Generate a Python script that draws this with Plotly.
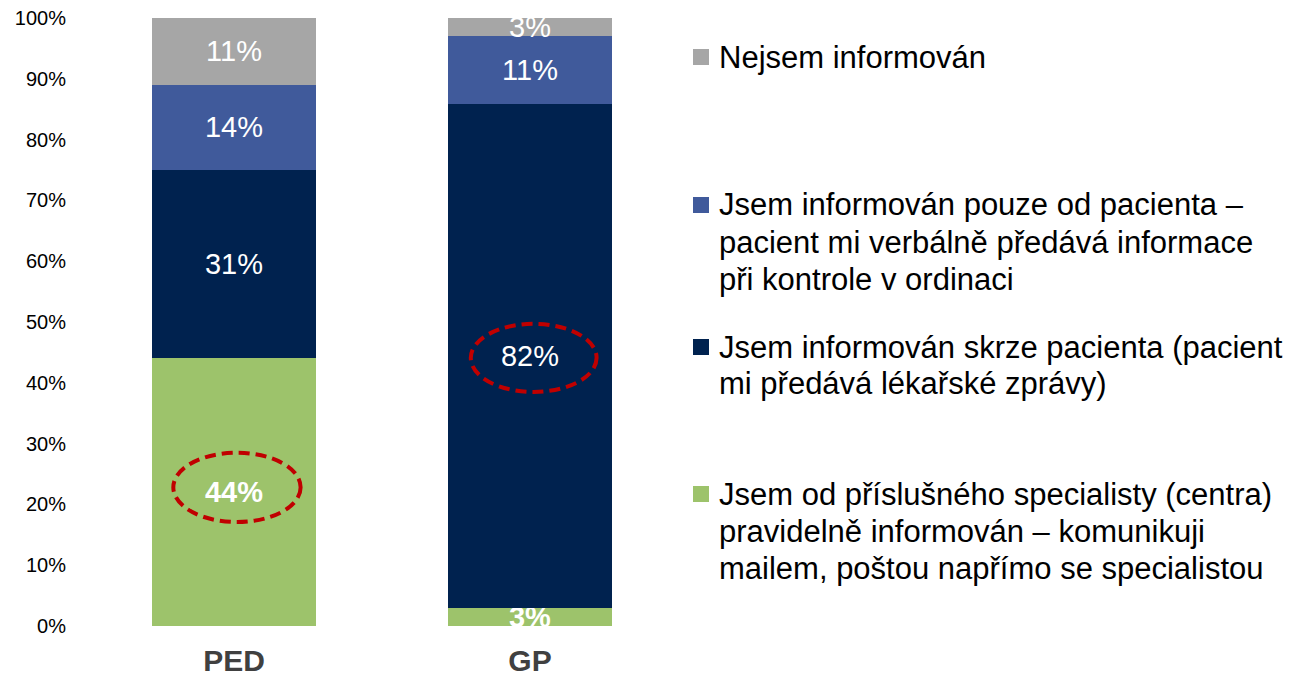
import plotly.graph_objects as go

# ---- data -------------------------------------------------------------
groups = ["PED", "GP"]
series_names = [
    "Jsem od příslušného specialisty (centra) pravidelně informován – komunikuji mailem, poštou napřímo se specialistou",
    "Jsem informován skrze pacienta (pacient mi předává lékařské zprávy)",
    "Jsem informován pouze od pacienta – pacient mi verbálně předává informace při kontrole v ordinaci",
    "Nejsem informován",
]
specialist = [44, 3]
via_patient_reports = [31, 82]
verbal_only = [14, 11]
not_informed = [11, 3]
series_values = [specialist, via_patient_reports, verbal_only, not_informed]
series_colors = ["#9DC36B", "#00224F", "#405A9B", "#A6A6A6"]
# which labels are printed bold
bold_labels = [[True, True], [False, False], [False, False], [False, False]]

legend_lines = [
    ["Nejsem informován"],
    ["Jsem informován pouze od pacienta –",
     "pacient mi verbálně předává informace",
     "při kontrole v ordinaci"],
    ["Jsem informován skrze pacienta (pacient",
     "mi předává lékařské zprávy)"],
    ["Jsem od příslušného specialisty (centra)",
     "pravidelně informován – komunikuji",
     "mailem, poštou napřímo se specialistou"],
]
legend_colors = ["#A6A6A6", "#405A9B", "#00224F", "#9DC36B"]
y_ticks = [0, 10, 20, 30, 40, 50, 60, 70, 80, 90, 100]

FONT = "Liberation Sans, Arial, sans-serif"

# ---- layout geometry (pixels) -----------------------------------------
W, H = 1304, 676
PL, PW = 86, 592          # plot left / width
PT, PH = 18, 608          # plot top / height


def px_x(px):
    return (px - PL) / PW


def px_y(py):
    return (PT + PH - py) / PH


fig = go.Figure()

for name, vals, col, bolds in zip(series_names, series_values, series_colors, bold_labels):
    texts = [f"<b>{v}%</b>" if b else f"{v}%" for v, b in zip(vals, bolds)]
    fig.add_trace(go.Bar(
        x=groups, y=vals, name=name,
        marker=dict(color=col, line=dict(width=0)),
        text=texts, textposition="inside", insidetextanchor="middle",
        constraintext="none",
        textfont=dict(family=FONT, size=29, color="white"),
        width=0.557, hoverinfo="skip",
    ))

# dashed highlight ellipses
fig.add_shape(type="circle", xref="x", yref="y", x0=-0.205, x1=0.225, y0=17.1, y1=28.5,
              line=dict(color="#C00000", width=4, dash="11px,6px"))
fig.add_shape(type="circle", xref="x", yref="y", x0=0.80, x1=1.225, y0=38.5, y1=49.7,
              line=dict(color="#C00000", width=4, dash="11px,6px"))

# custom legend
legend_baselines = [[67], [215, 252, 289], [357, 393], [504, 541, 578]]
TX = 717
for lines, col, bases in zip(legend_lines, legend_colors, legend_baselines):
    for i, (txt, b) in enumerate(zip(lines, bases)):
        fig.add_annotation(
            xref="paper", yref="paper", x=px_x(TX), y=px_y(b - 10),
            xanchor="left", yanchor="middle", showarrow=False,
            text=txt, font=dict(family=FONT, size=31, color="black"),
        )
    cy = bases[0] - 10
    fig.add_shape(type="rect", xref="paper", yref="paper",
                  x0=px_x(693), x1=px_x(709), y0=px_y(cy + 8), y1=px_y(cy - 8),
                  fillcolor=col, line=dict(width=0))

fig.update_layout(
    barmode="stack", barnorm="percent",
    width=W, height=H,
    margin=dict(l=PL, r=W - PL - PW, t=PT, b=H - PT - PH, pad=0, autoexpand=False),
    paper_bgcolor="white", plot_bgcolor="white",
    showlegend=False,
    font=dict(family=FONT),
)
fig.update_xaxes(
    range=[-0.5, 1.5], showline=False, showgrid=False, zeroline=False,
    ticks="", ticklabelstandoff=14, automargin=False,
    tickfont=dict(family=FONT, size=30, color="#404040", weight="bold"),
)
fig.update_yaxes(
    range=[0, 100], tickvals=y_ticks, ticktext=[f"{v}%" for v in y_ticks],
    showline=False, showgrid=False, zeroline=False, ticks="",
    ticklabelstandoff=19, automargin=False,
    tickfont=dict(family=FONT, size=20, color="black"),
)

fig.write_html("out.html")
